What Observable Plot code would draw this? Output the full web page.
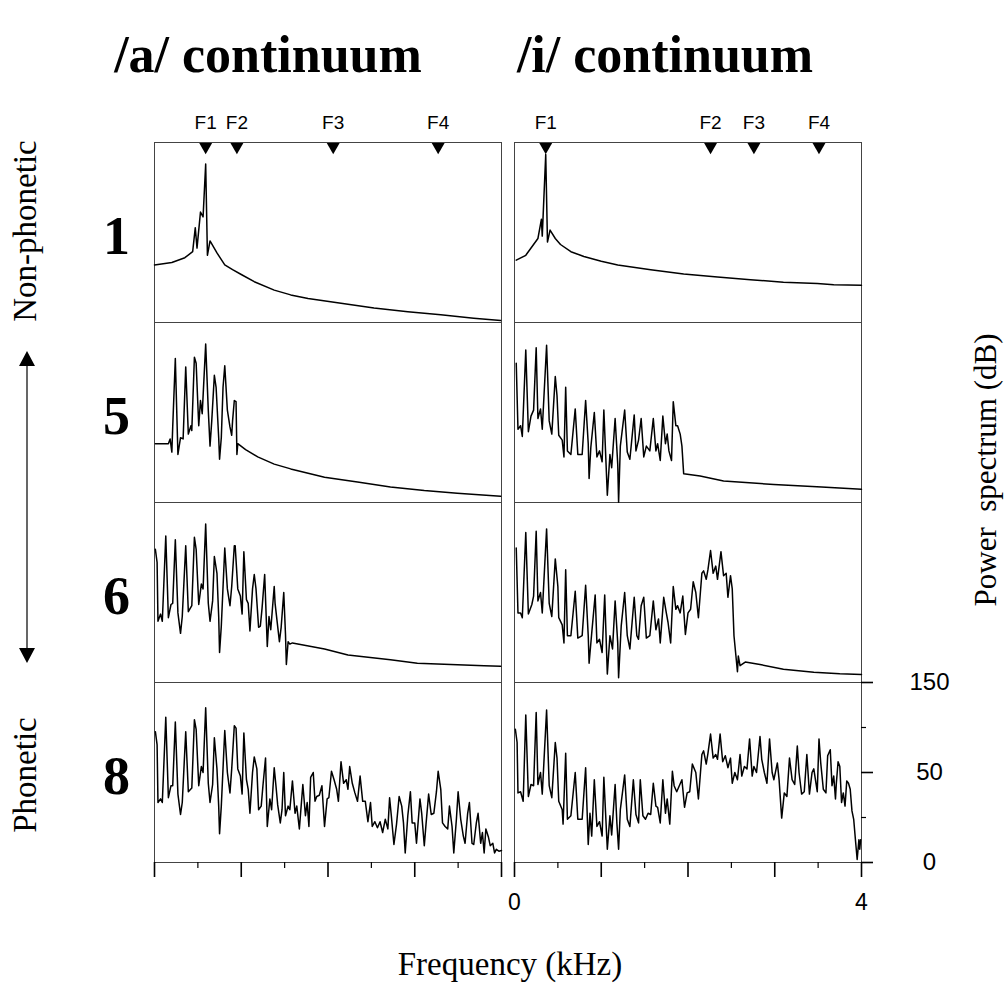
<!DOCTYPE html>
<html><head><meta charset="utf-8">
<script src="https://cdn.jsdelivr.net/npm/d3@7"></script>
<script src="https://cdn.jsdelivr.net/npm/@observablehq/plot@0.6"></script>
<style>body{margin:0;background:#fff}#chart{width:1007px;height:992px}</style>
</head><body><div id="chart"></div>
<script>
const vowels = ["a", "i"];
const steps = ["1", "5", "6", "8"];
const titles = ["/a/ continuum", "/i/ continuum"];
const formantNames = ["F1", "F2", "F3", "F4"];
const formantsA = [0.59, 0.95, 2.06, 3.27];
const formantsI = [0.36, 2.26, 2.76, 3.51];
const xTicks = [0, 0.5, 1, 1.5, 2, 2.5, 3, 3.5, 4];
const xLabelValues = [0, 4];
const xLabelText = ["0", "4"];
const yTicks = [0, 37.5, 75, 112.5, 150];
const yTickLabels = ["0", "", "50", "", "150"];

// [frequency kHz, level]
const a1 = [[0,48],[0.2,50],[0.35,54],[0.44,59],[0.47,79],[0.49,62],[0.53,92],[0.56,88],[0.59,132],[0.61,56],[0.64,68],[0.72,58],[0.81,48],[0.9,44],[1.0,40],[1.15,34],[1.38,27],[1.57,23],[1.77,20],[2.15,16],[2.53,12],[2.92,9],[3.3,6.5],[3.68,3.6],[3.99,1.7]];
const i1 = [[0.02,52],[0.13,56],[0.27,70],[0.31,86],[0.32,72],[0.36,140],[0.38,67],[0.41,77],[0.47,70],[0.53,65],[0.65,59],[0.80,55],[1.0,51],[1.19,48],[1.57,44],[1.95,40.5],[2.34,38],[2.72,35.6],[3.10,33.6],[3.49,32.5],[3.68,31.4],[4.0,31]];
const a5 = [[0.01,49],[0.16,49],[0.18,53],[0.2,42],[0.21,63],[0.24,120],[0.27,40],[0.30,54],[0.33,53],[0.36,113],[0.39,57],[0.42,64],[0.43,60],[0.46,121],[0.48,116],[0.51,64],[0.53,85],[0.55,74],[0.59,132],[0.62,77],[0.64,47],[0.66,68],[0.69,106],[0.71,96],[0.74,54],[0.75,36],[0.77,54],[0.79,96],[0.81,114],[0.84,77],[0.87,63],[0.89,56],[0.90,68],[0.92,85],[0.94,84],[0.95,40],[0.96,49],[1.05,44],[1.19,38],[1.38,32],[1.57,28],[1.96,21],[2.34,17],[2.72,13],[3.11,10],[3.49,7.8],[3.99,5.3]];
const i5 = [[0.02,116],[0.04,61],[0.07,64],[0.09,55],[0.13,127],[0.16,59],[0.19,72],[0.22,77],[0.25,129],[0.27,70],[0.30,78],[0.32,61],[0.37,131],[0.40,68],[0.43,57],[0.47,105],[0.49,89],[0.51,56],[0.55,52],[0.57,38],[0.59,96],[0.61,43],[0.65,40],[0.70,78],[0.73,40],[0.78,40],[0.82,85],[0.85,49],[0.86,20],[0.88,46],[0.92,75],[0.95,38],[0.98,43],[1.01,34],[1.03,77],[1.07,6],[1.10,40],[1.12,29],[1.16,70],[1.19,32],[1.20,0.3],[1.22,47],[1.27,77],[1.30,42],[1.33,36],[1.38,73],[1.40,43],[1.43,52],[1.46,70],[1.49,38],[1.52,47],[1.56,43],[1.60,70],[1.63,43],[1.65,49],[1.68,35],[1.71,72],[1.74,49],[1.76,57],[1.78,43],[1.81,35],[1.83,84],[1.86,64],[1.88,64],[1.91,57],[1.93,47],[1.95,24],[2.14,22],[2.41,18],[2.99,15],[3.54,13],[4.0,11]];
const a6 = [[0.01,111],[0.03,100],[0.04,51],[0.07,57],[0.09,51],[0.13,122],[0.16,54],[0.19,65],[0.21,66],[0.24,119],[0.27,58],[0.30,41],[0.32,55],[0.36,114],[0.39,59],[0.43,64],[0.46,121],[0.48,111],[0.51,65],[0.54,82],[0.56,78],[0.59,132],[0.62,66],[0.64,51],[0.67,68],[0.69,105],[0.72,91],[0.74,55],[0.75,25],[0.77,47],[0.81,112],[0.84,78],[0.87,64],[0.89,80],[0.92,114],[0.93,114],[0.96,78],[0.99,72],[1.01,57],[1.03,109],[1.06,69],[1.08,66],[1.10,43],[1.13,78],[1.15,90],[1.17,78],[1.20,46],[1.22,47],[1.24,62],[1.27,90],[1.30,30],[1.32,55],[1.34,44],[1.38,80],[1.39,66],[1.41,53],[1.44,34],[1.46,46],[1.49,75],[1.51,40],[1.52,15],[1.54,34],[1.56,32],[1.59,33],[1.96,28],[2.23,23],[2.72,19],[3.03,16],[3.80,14],[3.99,13.6]];
const i6 = [[0.02,112],[0.04,58],[0.07,58],[0.09,54],[0.13,125],[0.16,57],[0.20,65],[0.22,72],[0.25,126],[0.27,68],[0.30,75],[0.32,58],[0.37,128],[0.40,66],[0.43,55],[0.47,103],[0.50,80],[0.51,54],[0.55,48],[0.57,33],[0.59,94],[0.61,39],[0.65,39],[0.70,76],[0.73,37],[0.78,39],[0.82,81],[0.85,39],[0.86,16],[0.89,41],[0.93,73],[0.95,33],[0.98,36],[1.01,25],[1.04,73],[1.07,7],[1.10,39],[1.13,28],[1.16,68],[1.19,33],[1.20,4],[1.23,47],[1.27,75],[1.30,39],[1.33,28],[1.38,71],[1.41,39],[1.43,36],[1.46,64],[1.49,71],[1.52,37],[1.56,39],[1.60,68],[1.63,44],[1.66,53],[1.68,33],[1.72,71],[1.75,58],[1.77,50],[1.80,33],[1.83,80],[1.86,61],[1.88,64],[1.91,58],[1.94,72],[1.97,40],[2.00,58],[2.03,61],[2.06,84],[2.09,75],[2.12,54],[2.16,91],[2.18,93],[2.21,86],[2.23,94],[2.26,110],[2.29,91],[2.32,97],[2.34,86],[2.38,109],[2.41,89],[2.44,91],[2.46,71],[2.49,89],[2.51,78],[2.53,39],[2.57,9],[2.58,22],[2.60,14],[2.66,17],[2.83,15],[3.10,11],[3.45,8.6],[3.75,7.2],[4.0,6.7]];
const a8 = [[0.01,109],[0.03,98],[0.04,50],[0.07,53],[0.09,50],[0.13,121],[0.16,54],[0.19,64],[0.21,64],[0.24,117],[0.27,57],[0.30,40],[0.32,50],[0.36,109],[0.39,59],[0.43,62],[0.46,119],[0.48,111],[0.51,64],[0.54,80],[0.56,75],[0.59,129],[0.62,66],[0.64,50],[0.67,65],[0.69,104],[0.72,78],[0.74,47],[0.75,24],[0.77,47],[0.81,110],[0.84,75],[0.87,58],[0.89,78],[0.92,114],[0.94,112],[0.96,78],[0.99,72],[1.01,57],[1.03,108],[1.06,69],[1.08,61],[1.10,41],[1.13,75],[1.15,88],[1.18,78],[1.20,44],[1.23,47],[1.25,64],[1.28,87],[1.30,30],[1.33,53],[1.35,44],[1.38,79],[1.40,64],[1.42,48],[1.45,33],[1.47,44],[1.49,75],[1.51,39],[1.54,47],[1.56,44],[1.59,68],[1.62,41],[1.64,47],[1.67,28],[1.71,65],[1.74,39],[1.76,50],[1.78,30],[1.80,71],[1.83,75],[1.85,51],[1.87,55],[1.90,56],[1.93,64],[1.96,30],[1.99,53],[2.01,54],[2.04,76],[2.07,69],[2.10,61],[2.12,51],[2.15,84],[2.18,66],[2.21,69],[2.23,61],[2.25,80],[2.28,66],[2.31,58],[2.34,51],[2.37,72],[2.40,51],[2.43,51],[2.46,34],[2.49,50],[2.51,30],[2.54,34],[2.57,29],[2.60,34],[2.63,25],[2.66,36],[2.69,28],[2.71,54],[2.73,39],[2.76,15],[2.79,32],[2.82,55],[2.85,47],[2.87,33],[2.89,8],[2.92,39],[2.95,59],[2.97,33],[3.00,33],[3.02,16],[3.06,53],[3.08,41],[3.11,14],[3.13,32],[3.16,57],[3.19,40],[3.22,41],[3.25,59],[3.27,76],[3.30,61],[3.32,33],[3.35,30],[3.38,28],[3.40,47],[3.43,30],[3.45,8],[3.48,36],[3.50,59],[3.53,36],[3.56,22],[3.58,16],[3.61,41],[3.63,50],[3.66,16],[3.68,15],[3.71,33],[3.73,41],[3.76,16],[3.78,25],[3.80,8],[3.82,28],[3.85,21],[3.87,14],[3.90,16],[3.92,8],[3.94,11],[3.97,9.4],[4.0,10]];
const i8 = [[0.01,111],[0.03,100],[0.04,58],[0.07,59],[0.10,51],[0.13,123],[0.16,55],[0.19,65],[0.22,64],[0.25,125],[0.27,65],[0.30,75],[0.32,57],[0.37,127],[0.40,64],[0.43,54],[0.47,100],[0.49,87],[0.51,51],[0.55,44],[0.56,32],[0.59,91],[0.61,36],[0.65,39],[0.70,75],[0.73,36],[0.78,36],[0.82,79],[0.85,15],[0.87,41],[0.89,22],[0.92,69],[0.95,30],[0.98,34],[1.01,22],[1.03,71],[1.07,11],[1.10,39],[1.12,23],[1.16,65],[1.18,33],[1.20,11],[1.22,44],[1.27,73],[1.30,36],[1.33,30],[1.37,69],[1.40,40],[1.43,33],[1.45,69],[1.48,39],[1.51,36],[1.54,41],[1.57,40],[1.60,66],[1.63,47],[1.65,46],[1.68,33],[1.71,69],[1.74,41],[1.76,53],[1.79,32],[1.82,76],[1.84,64],[1.87,59],[1.90,64],[1.93,69],[1.96,46],[1.99,58],[2.02,59],[2.05,82],[2.09,75],[2.12,53],[2.16,90],[2.18,93],[2.21,82],[2.23,91],[2.26,107],[2.29,87],[2.32,90],[2.34,86],[2.37,107],[2.40,84],[2.43,89],[2.46,79],[2.49,87],[2.51,66],[2.54,75],[2.57,69],[2.60,90],[2.62,72],[2.65,80],[2.68,78],[2.71,103],[2.74,72],[2.76,80],[2.79,75],[2.83,105],[2.85,86],[2.88,75],[2.91,66],[2.94,103],[2.97,75],[2.99,69],[3.03,83],[3.05,69],[3.08,37],[3.11,58],[3.14,55],[3.17,87],[3.20,69],[3.23,65],[3.26,97],[3.28,75],[3.31,57],[3.34,59],[3.37,90],[3.40,57],[3.43,75],[3.45,78],[3.49,59],[3.51,103],[3.53,83],[3.56,61],[3.59,58],[3.61,89],[3.64,94],[3.66,64],[3.68,72],[3.70,53],[3.71,66],[3.73,84],[3.75,80],[3.77,50],[3.79,58],[3.81,47],[3.83,68],[3.85,66],[3.87,61],[3.89,43],[3.91,36],[3.93,19],[3.95,2.5],[3.97,19],[3.98,11],[3.99,19]];

const panels = {a: {"1": a1, "5": a5, "6": a6, "8": a8}, i: {"1": i1, "5": i5, "6": i6, "8": i8}};
const spectra = [];
for (const v of vowels) for (const s of steps) for (const [f, db] of panels[v][s]) spectra.push({vowel: v, step: s, f, db});

const formants = [];
formantNames.forEach((n, k) => {
  formants.push({vowel: "a", step: "1", name: n, f: formantsA[k]});
  formants.push({vowel: "i", step: "1", name: n, f: formantsI[k]});
});
const xTickData = [];
for (const v of vowels) for (const f of xTicks) xTickData.push({vowel: v, step: "8", f, major: Number.isInteger(f)});
const xLabelData = xLabelValues.map((f, k) => ({vowel: "i", step: "8", f, text: xLabelText[k]}));
const yTickData = yTicks.map((v, k) => ({vowel: "i", step: "8", v, text: yTickLabels[k], major: yTickLabels[k] !== ""}));

const serif = "'Liberation Serif','Times New Roman',Times,serif";
const sans = "'Liberation Sans',Arial,Helvetica,sans-serif";

const chart = Plot.plot({
  width: 1007, height: 992,
  marginLeft: 153, marginRight: 145, marginTop: 140, marginBottom: 129,
  style: {background: "#fff", overflow: "visible"},
  x: {domain: [0, 4], axis: null},
  y: {domain: [0, 150], axis: null},
  fx: {domain: vowels, paddingInner: 0.036, axis: null},
  fy: {domain: steps, padding: 0, axis: null},
  marks: [
    Plot.frame({stroke: "#444", strokeWidth: 1}),
    Plot.line(spectra, {x: "f", y: "db", fx: "vowel", fy: "step", stroke: "#000", strokeWidth: 1.5, strokeLinejoin: "round"}),
    Plot.dot(formants, {x: "f", y: 146.4, fx: "vowel", fy: "step", symbol: "triangle", rotate: 180, r: 4.8, fill: "#000", stroke: "none"}),
    Plot.text(formants, {x: "f", y: 150, dy: -20, text: "name", fx: "vowel", fy: "step", fontSize: 19, fontFamily: sans, fill: "#000"}),
    Plot.ruleX(xTickData.filter(d => d.major), {x: "f", y1: 0, y2: 0, insetBottom: -15, fx: "vowel", fy: "step", stroke: "#000", strokeWidth: 1.6}),
    Plot.ruleX(xTickData.filter(d => !d.major), {x: "f", y1: 0, y2: 0, insetBottom: -6, fx: "vowel", fy: "step", stroke: "#000", strokeWidth: 1.2}),
    Plot.text(xLabelData, {x: "f", y: 0, dy: 40, text: "text", fx: "vowel", fy: "step", fontSize: 23, fontFamily: sans, fill: "#000"}),
    Plot.ruleY(yTickData.filter(d => d.major), {y: "v", x1: 4, x2: 4, insetRight: -12, fx: "vowel", fy: "step", stroke: "#000", strokeWidth: 1.6}),
    Plot.ruleY(yTickData.filter(d => !d.major), {y: "v", x1: 4, x2: 4, insetRight: -5, fx: "vowel", fy: "step", stroke: "#000", strokeWidth: 1.2}),
    Plot.text(yTickData, {x: 4, y: "v", dx: 68, text: "text", fx: "vowel", fy: "step", fontSize: 24, fontFamily: sans, fill: "#000"}),
    Plot.text(steps, {fx: () => "a", fy: d => d, text: d => d, frameAnchor: "left", textAnchor: "middle", dx: -38, dy: 4, fontSize: 54, fontWeight: "bold", fontFamily: serif, fill: "#000"})
  ]
});
document.getElementById("chart").appendChild(chart);

const svg = d3.select(chart);
const g = svg.append("g").attr("fill", "#000");
const titleX = [268, 665];
titles.forEach((t, k) => {
  g.append("text").attr("x", titleX[k]).attr("y", 72).attr("text-anchor", "middle")
    .attr("font-family", serif).attr("font-weight", "bold").attr("font-size", 52).text(t);
});
g.append("text").attr("transform", "translate(36,231) rotate(-90)").attr("text-anchor", "middle")
  .attr("font-family", serif).attr("font-size", 33).text("Non-phonetic");
g.append("text").attr("transform", "translate(36,775) rotate(-90)").attr("text-anchor", "middle")
  .attr("font-family", serif).attr("font-size", 33).text("Phonetic");
g.append("text").attr("transform", "translate(996,470) rotate(-90)").attr("text-anchor", "middle")
  .attr("font-family", serif).attr("font-size", 31).attr("xml:space", "preserve").text("Power  spectrum (dB)");
g.append("text").attr("x", 510).attr("y", 975).attr("text-anchor", "middle")
  .attr("font-family", serif).attr("font-size", 33).text("Frequency (kHz)");
// double-headed arrow
g.append("line").attr("x1", 27).attr("x2", 27).attr("y1", 362).attr("y2", 652).attr("stroke", "#000").attr("stroke-width", 1.2);
g.append("path").attr("d", "M27,351 L19,366 L35,366 Z");
g.append("path").attr("d", "M27,663 L19,648 L35,648 Z");
</script>
</body></html>
